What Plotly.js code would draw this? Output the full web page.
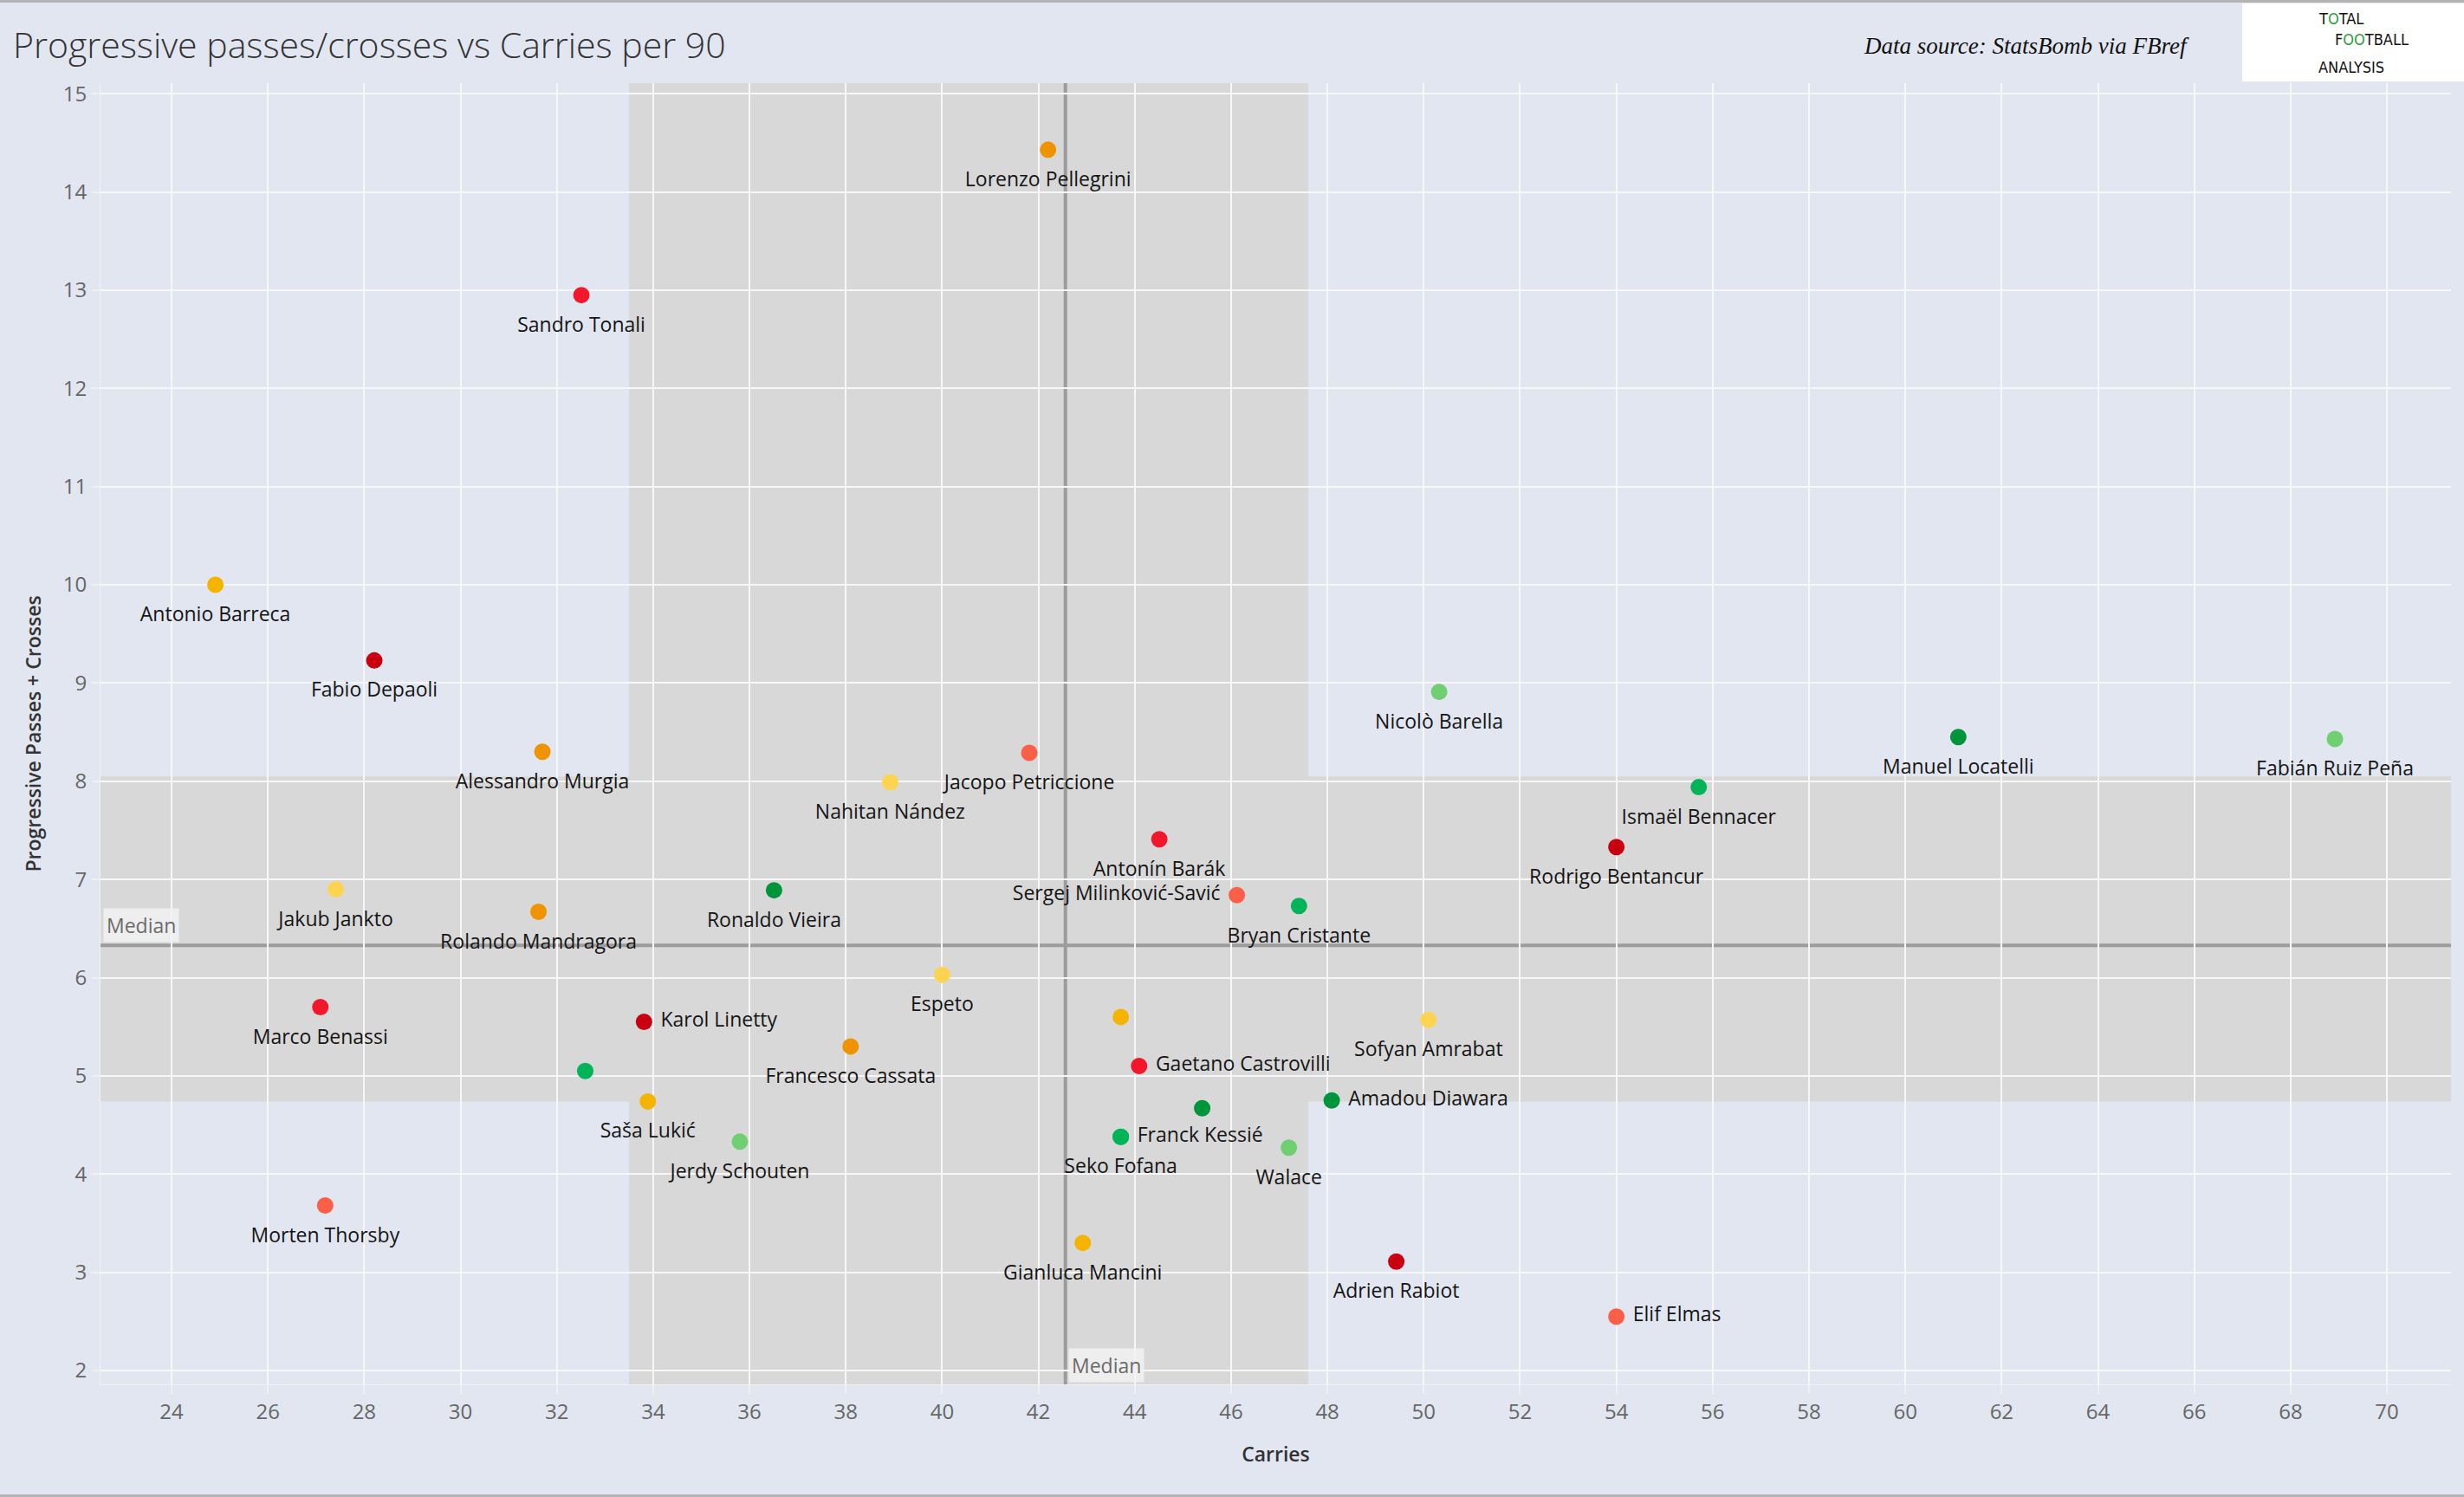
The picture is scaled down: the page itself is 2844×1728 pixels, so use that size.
<!DOCTYPE html>
<html>
<head>
<meta charset="utf-8">
<script src="https://cdn.plot.ly/plotly-3.0.1.min.js"></script>
<style>
html,body{margin:0;padding:0;background:#e1e6f0;overflow:hidden;}
#chart{width:2844px;height:1728px;}
.edge{position:absolute;left:0;width:2844px;height:3px;background:#b3b3b3;}
</style>
</head>
<body>
<div id="chart"></div>
<div class="edge" style="top:0"></div>
<div class="edge" style="top:1725px"></div>
<script>
// ---------------- DATA ----------------
const players = [
  "Lorenzo Pellegrini","Sandro Tonali","Antonio Barreca","Fabio Depaoli","Alessandro Murgia",
  "Jacopo Petriccione","Nahitan Nández","Nicolò Barella","Manuel Locatelli","Fabián Ruiz Peña",
  "Ismaël Bennacer","Rodrigo Bentancur","Antonín Barák","Sergej Milinković-Savić","Bryan Cristante",
  "Jakub Jankto","Rolando Mandragora","Ronaldo Vieira","Espeto","Marco Benassi",
  "Karol Linetty","Francesco Cassata","","Sofyan Amrabat","Gaetano Castrovilli",
  "","Saša Lukić","Amadou Diawara","","Seko Fofana",
  "Franck Kessié","Jerdy Schouten","Walace","Morten Thorsby","Gianluca Mancini",
  "Adrien Rabiot","Elif Elmas"
];
const carries = [
  42.20, 32.51, 24.91, 28.21, 31.70,
  41.81, 38.92, 50.32, 61.10, 68.92,
  55.71, 54.00, 44.51, 46.12, 47.41,
  27.41, 31.62, 36.51, 40.00, 27.09,
  33.81, 38.10, 43.71, 50.10, 44.09,
  32.59, 33.89, 48.09, 45.40, 43.71,
  43.71, 35.80, 47.20, 27.19, 42.92,
  49.43, 54.00
];
const progPassesCrosses = [
  14.43, 12.95, 10.00, 9.23, 8.30,
  8.29, 7.99, 8.91, 8.45, 8.43,
  7.94, 7.33, 7.41, 6.84, 6.73,
  6.90, 6.67, 6.89, 6.03, 5.70,
  5.55, 5.30, 5.60, 5.57, 5.10,
  5.05, 4.74, 4.75, 4.67, 4.38,
  4.38, 4.33, 4.27, 3.68, 3.30,
  3.11, 2.55
];
const colourGroup = [
  "orange","red","amber","darkred","orange",
  "tomato","yellow","lightgreen","darkgreen","lightgreen",
  "green","darkred","red","tomato","green",
  "yellow","orange","darkgreen","yellow","red",
  "darkred","orange","amber","yellow","red",
  "green","amber","darkgreen","darkgreen","green",
  "green","lightgreen","lightgreen","tomato","amber",
  "darkred","tomato"
];
const medianCarries = 42.56;
const medianProgPasses = 6.33;
const carriesBand = [33.5, 47.6];
const progPassesBand = [4.74, 8.05];

// ---------------- STYLE ----------------
const palette = {
  darkred: "#c8000f", red: "#f2182b", tomato: "#fb5f48", orange: "#ef9300",
  amber: "#f5b400", yellow: "#fdd452", lightgreen: "#70cf70", green: "#00b457", darkgreen: "#00943b"
};
const labelSide = {
  "Karol Linetty": "middle right", "Gaetano Castrovilli": "middle right",
  "Amadou Diawara": "middle right", "Franck Kessié": "middle right",
  "Elif Elmas": "middle right", "Sergej Milinković-Savić": "middle left"
};
const FONT = "'Open Sans', 'Noto Sans', Lato, sans-serif";

const idx = players.map((_, i) => i);
const isSide = i => !!labelSide[players[i]];

const markerTrace = {
  type: "scatter", mode: "markers",
  x: carries, y: progPassesCrosses, text: players,
  marker: {size: 19, color: colourGroup.map(g => palette[g]), line: {width: 0}},
  hoverinfo: "text", cliponaxis: false, showlegend: false
};
function labelTrace(filterFn, spacer) {
  const ids = idx.filter(filterFn);
  return {
    type: "scatter", mode: "markers+text",
    x: ids.map(i => carries[i]), y: ids.map(i => progPassesCrosses[i]),
    text: ids.map(i => players[i]),
    textposition: ids.map(i => labelSide[players[i]] || "bottom center"),
    textfont: {family: FONT, size: 23, color: "#151515"},
    marker: {size: spacer, color: "rgba(0,0,0,0)", line: {width: 0}},
    hoverinfo: "skip", cliponaxis: false, showlegend: false
  };
}
const belowLabels = labelTrace(i => !isSide(i), 38);
const sideLabels = labelTrace(i => isSide(i), 29);

const axisCommon = {
  showgrid: true, gridcolor: "#f7f7f7", gridwidth: 2,
  zeroline: false, showline: true, linecolor: "#f2f2f2", linewidth: 1,
  ticks: "outside", ticklen: 10, tickcolor: "#f0f0f0", tickwidth: 1.5,
  tickfont: {family: FONT, size: 24, color: "#666666"}
};

const layout = {
  width: 2844, height: 1728,
  margin: {l: 116, r: 15, t: 96, b: 130},
  paper_bgcolor: "#e1e6f0", plot_bgcolor: "#e1e6f0",
  title: {
    text: "Progressive passes/crosses vs Carries per 90",
    xref: "container", yref: "container", x: 15/2844, xanchor: "left",
    y: 1 - 53/1728, yanchor: "middle",
    font: {family: FONT, size: 41, color: "#333333", weight: 300}
  },
  xaxis: Object.assign({}, axisCommon, {
    range: [22.525, 71.33], tick0: 0, dtick: 2,
    title: {text: "Carries", standoff: 27, font: {family: FONT, size: 23, color: "#333333", weight: 600}}
  }),
  yaxis: Object.assign({}, axisCommon, {
    range: [1.859, 15.108], tick0: 0, dtick: 1,
    title: {text: "Progressive Passes + Crosses", standoff: 18, font: {family: FONT, size: 23, color: "#333333", weight: 600}}
  }),
  shapes: [
    {type: "rect", xref: "x", yref: "paper", x0: carriesBand[0], x1: carriesBand[1], y0: 0, y1: 1,
     fillcolor: "#d8d8d8", line: {width: 0}, layer: "below"},
    {type: "rect", xref: "paper", yref: "y", x0: 0, x1: 1, y0: progPassesBand[0], y1: progPassesBand[1],
     fillcolor: "#d8d8d8", line: {width: 0}, layer: "below"},
    {type: "line", xref: "x", yref: "paper", x0: medianCarries, x1: medianCarries, y0: 0, y1: 1,
     line: {color: "#9c9c9c", width: 4}, layer: "between"},
    {type: "line", xref: "paper", yref: "y", x0: 0, x1: 1, y0: medianProgPasses, y1: medianProgPasses,
     line: {color: "#9c9c9c", width: 4}, layer: "between"},
    {type: "rect", xref: "paper", yref: "paper", x0: (2588-116)/2713, x1: (2844-116)/2713,
     y0: (1598-94)/1502, y1: (1598-4)/1502, fillcolor: "#ffffff", line: {width: 0}, layer: "above"}
  ],
  annotations: [
    {text: "Median", xref: "paper", yref: "y", x: 0.001, xanchor: "left", y: medianProgPasses,
     yanchor: "bottom", yshift: 3, showarrow: false, bgcolor: "rgba(242,242,242,0.85)", borderpad: 3,
     font: {family: FONT, size: 23, color: "#6b6b6b"}},
    {text: "Median", xref: "x", yref: "paper", x: medianCarries, xanchor: "left", xshift: 3, y: 0,
     yanchor: "bottom", yshift: 2, showarrow: false, bgcolor: "rgba(242,242,242,0.85)", borderpad: 3,
     font: {family: FONT, size: 23, color: "#6b6b6b"}},
    {text: "<i>Data source: StatsBomb via FBref</i>", xref: "paper", yref: "paper",
     x: (2149-116)/2713, xanchor: "left", y: (1598-53)/1502, yanchor: "middle", showarrow: false,
     font: {family: "'Liberation Serif', 'Times New Roman', serif", size: 27, color: "#111111"}},
    {text: "T<span style='color:#2e9e3e'>O</span>TAL", xref: "paper", yref: "paper",
     x: (2674-116)/2713, xanchor: "left", y: (1598-21)/1502, yanchor: "middle", showarrow: false,
     font: {family: "'Liberation Sans Narrow', 'DejaVu Sans Condensed', sans-serif", size: 18, color: "#111111"}},
    {text: "F<span style='color:#2e9e3e'>OO</span>TBALL", xref: "paper", yref: "paper",
     x: (2693-116)/2713, xanchor: "left", y: (1598-45)/1502, yanchor: "middle", showarrow: false,
     font: {family: "'Liberation Sans Narrow', 'DejaVu Sans Condensed', sans-serif", size: 18, color: "#111111"}},
    {text: "ANALYSIS", xref: "paper", yref: "paper",
     x: (2674-116)/2713, xanchor: "left", y: (1598-77)/1502, yanchor: "middle", showarrow: false,
     font: {family: "'Liberation Sans Narrow', 'DejaVu Sans Condensed', sans-serif", size: 18, color: "#111111"}}
  ]
};

Plotly.newPlot("chart", [markerTrace, belowLabels, sideLabels], layout, {displayModeBar: false, responsive: false});
</script>
</body>
</html>
